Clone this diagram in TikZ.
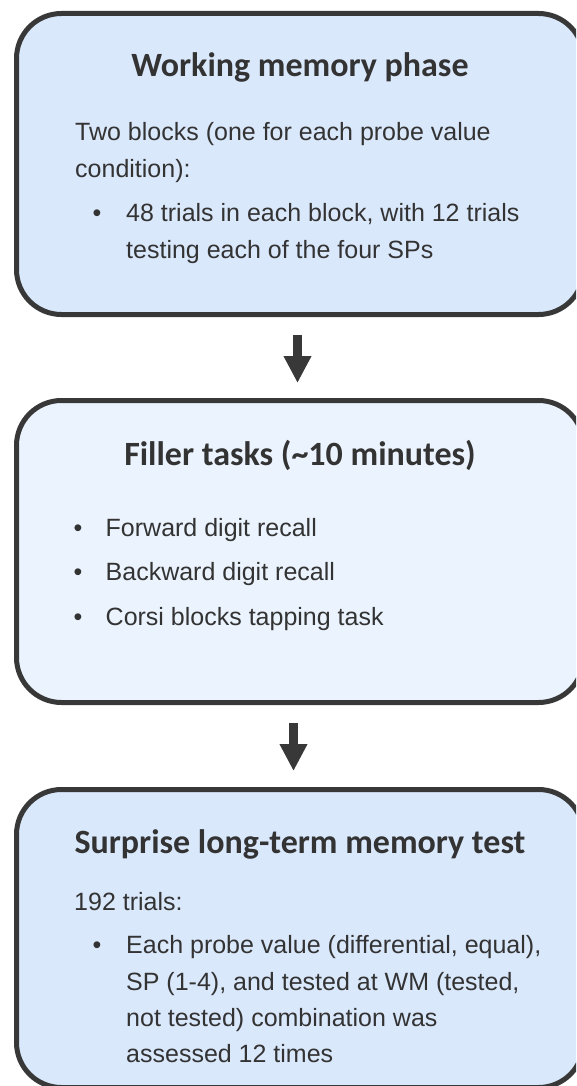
\documentclass[tikz,border=0pt]{standalone}
\usepackage{fontspec}
\setmainfont{Liberation Sans}
\newfontfamily\titlefont{Carlito}
\usetikzlibrary{arrows.meta}
\definecolor{bordc}{HTML}{383838}
\definecolor{txtc}{HTML}{333333}
\definecolor{fillA}{HTML}{DAE8FC}
\definecolor{fillB}{HTML}{EBF4FE}
\begin{document}
\begin{tikzpicture}[x=1pt,y=-1pt,
  phase/.style={draw=bordc, line width=5pt, rounded corners=45pt, minimum width=567pt, inner sep=0pt},
  title/.style={anchor=base, inner sep=0pt, text=txtc, font=\titlefont\bfseries\fontsize{34}{40}\selectfont},
  body/.style={anchor=base west, inner sep=0pt, text=txtc, font=\fontsize{25}{30}\selectfont},
  bul/.style={anchor=base, inner sep=0pt, text=txtc, font=\fontsize{25}{30}\selectfont},
  flow/.style={draw=bordc, line width=8.5pt, -{Triangle[width=26pt,length=27pt]}}]
\useasboundingbox (0,0) rectangle (576,1086);
\fill[white] (0,0) rectangle (576,1086);
\clip (0,0) rectangle (576,1086);
% boxes
\node[phase, fill=fillA, minimum height=301pt] (b1) at (300,164) {};
\node[phase, fill=fillB, minimum height=302pt] (b2) at (300,551.5) {};
\node[phase, fill=fillA, minimum height=298pt] (b3) at (300,938.5) {};
% box 1
\node[title] (t1) at (300,77) {Working memory phase};
\node[body] (p1a) at (75,141) {Two blocks (one for each probe value};
\node[body] (p1b) at (75,178) {condition):};
\node[bul] (d1) at (97,222) {•};
\node[body] (p1c) at (126,222) {48 trials in each block, with 12 trials};
\node[body] (p1d) at (126,258) {testing each of the four SPs};
% box 2
\node[title] (t2) at (300,465) {Filler tasks ({\char"7E}10 minutes)};
\node[bul] (d2a) at (78,536) {•};
\node[body] (p2a) at (105.5,536) {Forward digit recall};
\node[bul] (d2b) at (78,580.5) {•};
\node[body] (p2b) at (105.5,580.5) {Backward digit recall};
\node[bul] (d2c) at (78,625.5) {•};
\node[body] (p2c) at (105.5,625.5) {Corsi blocks tapping task};
% box 3
\node[title] (t3) at (300,853) {Surprise long-term memory test};
\node[body] (p3a) at (74,910) {192 trials:};
\node[bul] (d3) at (97,953) {•};
\node[body] (p3b) at (126,953) {Each probe value (differential, equal),};
\node[body] (p3c) at (126,990) {SP (1-4), and tested at WM (tested,};
\node[body] (p3d) at (126,1026) {not tested) combination was};
\node[body] (p3e) at (126,1062) {assessed 12 times};
% arrows
\coordinate (a1s) at (297.5,335);
\coordinate (a1e) at (297.5,383);
\coordinate (a2s) at (293.5,723);
\coordinate (a2e) at (293.5,771);
\draw[flow] (a1s) -- (a1e);
\draw[flow] (a2s) -- (a2e);
\end{tikzpicture}
\end{document}
